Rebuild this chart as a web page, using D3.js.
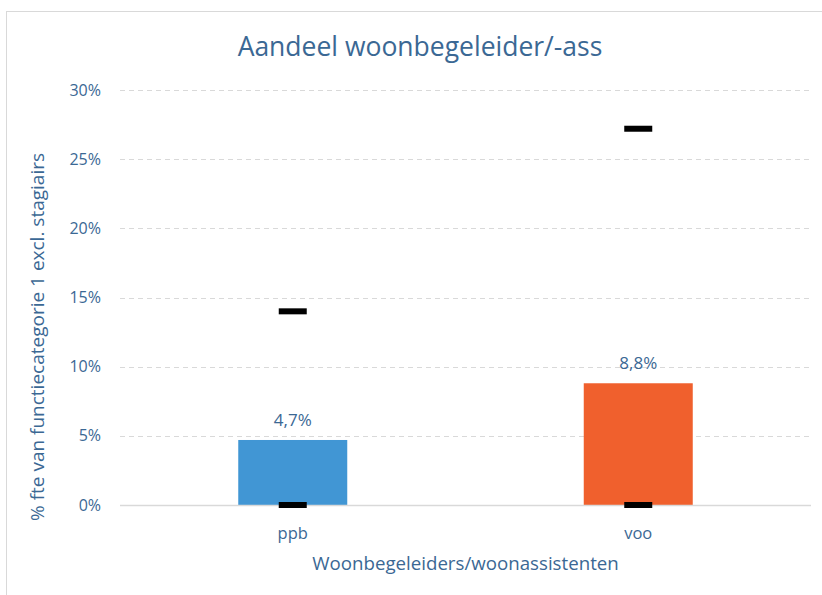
<!DOCTYPE html>
<html>
<head>
<meta charset="utf-8">
<script src="https://cdn.jsdelivr.net/npm/d3@7"></script>
<style>
  body { margin: 0; background: #fff; }
  text { font-family: "Open Sans", sans-serif; fill: #3b6894; }
</style>
</head>
<body>
<svg id="chart" width="822" height="595"></svg>
<script>
// data
var categories = ["ppb", "voo"];
var shares = [4.7, 8.8];          // bar value, %
var minMarks = [0, 0];            // lower black dash, %
var maxMarks = [14.0, 27.2];      // upper black dash, %
var barColors = ["#4196d4", "#f0602d"];
var yTicks = [0, 5, 10, 15, 20, 25, 30];

var svg = d3.select("#chart");

// outer frame of the chart area
svg.append("rect")
  .attr("x", 6.5).attr("y", 11.5)
  .attr("width", 840).attr("height", 600)
  .style("fill", "none")
  .style("stroke", "#d9d9d9")
  .style("stroke-width", 1);

var pLeft = 120, pRight = 811, pTop = 90, pBottom = 505;

var x = d3.scaleBand().domain(categories).range([pLeft, pRight]);
var y = d3.scaleLinear().domain([0, 30]).range([pBottom, pTop]);
var barW = 109;

// gridlines
svg.selectAll(".grid")
  .data(yTicks.filter(function(d){ return d > 0; }))
  .enter().append("line")
  .attr("x1", pLeft).attr("x2", pRight)
  .attr("y1", function(d){ return Math.round(y(d)) + 0.5; })
  .attr("y2", function(d){ return Math.round(y(d)) + 0.5; })
  .style("stroke", "#d9d9d9")
  .style("stroke-dasharray", "5,4");

// y axis labels
svg.selectAll(".ylab")
  .data(yTicks).enter().append("text")
  .attr("x", 101)
  .attr("y", function(d){ return y(d); })
  .attr("dy", "0.35em")
  .attr("text-anchor", "end")
  .style("font-size", "16px")
  .text(function(d){ return d + "%"; });

// bars
svg.selectAll(".bar")
  .data(categories).enter().append("rect")
  .attr("x", function(d){ return x(d) + x.bandwidth()/2 - barW/2; })
  .attr("width", barW)
  .attr("y", function(d, i){ return y(shares[i]); })
  .attr("height", function(d, i){ return y(0) - y(shares[i]); })
  .style("fill", function(d, i){ return barColors[i]; });

// baseline
svg.append("line")
  .attr("x1", pLeft).attr("x2", pRight)
  .attr("y1", pBottom + 0.5).attr("y2", pBottom + 0.5)
  .style("stroke", "#d9d9d9")
  .style("stroke-width", 1.5);

// min / max markers
function marks(vals) {
  svg.selectAll(null)
    .data(categories).enter().append("rect")
    .attr("x", function(d){ return x(d) + x.bandwidth()/2 - 14; })
    .attr("width", 28)
    .attr("y", function(d, i){ return y(vals[i]) - 3; })
    .attr("height", 6)
    .style("fill", "#000");
}
marks(minMarks);
marks(maxMarks);

// value labels
svg.selectAll(".vlab")
  .data(categories).enter().append("text")
  .attr("x", function(d){ return x(d) + x.bandwidth()/2; })
  .attr("y", function(d, i){ return y(shares[i]) - 20; })
  .attr("dy", "0.35em")
  .attr("text-anchor", "middle")
  .style("font-size", "17px")
  .text(function(d, i){ return d3.format(".1f")(shares[i]).replace(".", ",") + "%"; });

// category labels
svg.selectAll(".xlab")
  .data(categories).enter().append("text")
  .attr("x", function(d){ return x(d) + x.bandwidth()/2; })
  .attr("y", 533)
  .attr("dy", "0.35em")
  .attr("text-anchor", "middle")
  .style("font-size", "16.5px")
  .text(function(d){ return d; });

// axis titles
svg.append("text")
  .attr("x", (pLeft + pRight)/2).attr("y", 563)
  .attr("dy", "0.35em")
  .attr("text-anchor", "middle")
  .style("font-size", "18.7px")
  .text("Woonbegeleiders/woonassistenten");

svg.append("text")
  .attr("transform", "translate(37,337) rotate(-90)")
  .attr("dy", "0.35em")
  .attr("text-anchor", "middle")
  .style("font-size", "19px")
  .text("% fte van functiecategorie 1 excl. stagiairs");

// chart title
svg.append("text")
  .attr("x", 420).attr("y", 47)
  .attr("dy", "0.35em")
  .attr("text-anchor", "middle")
  .style("font-size", "26.5px")
  .text("Aandeel woonbegeleider/-ass");
</script>
</body>
</html>
